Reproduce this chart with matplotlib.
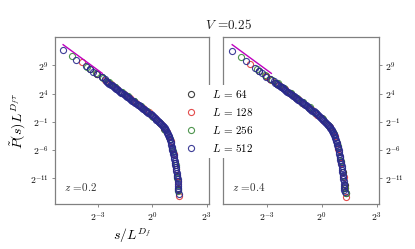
import numpy as np
import matplotlib
matplotlib.use("Agg")
import matplotlib.pyplot as plt
from matplotlib.ticker import FixedLocator, FuncFormatter, NullLocator

plt.rcParams['font.family'] = 'serif'
plt.rcParams['font.serif'] = ['cmr10', 'DejaVu Serif']
plt.rcParams['mathtext.fontset'] = 'cm'
plt.rcParams['axes.unicode_minus'] = False
plt.rcParams['axes.formatter.use_mathtext'] = True

# values are log2 exponents: x = log2(s/L^Df), y = log2(P L^(Df tau))
sizes = [64, 128, 256, 512]
colors = ['#2b2b2b', '#e03a3a', '#3c8a3c', '#2a2a8c']

# ---- z = 0.2 (left) ----
z02_x64 = [-3.48, -3.05, -2.82, -2.45, -2.10, -1.75, -1.40, -1.05, -0.70, -0.35, 0.0, 0.35, 0.65, 0.90, 1.08, 1.25, 1.36, 1.44]
z02_y64 = [8.30, 7.40, 7.00, 6.00, 5.20, 4.35, 3.55, 2.70, 1.85, 1.00, 0.05, -1.10, -2.25, -3.6, -5.6, -8.2, -10.5, -12.8]
z02_x128 = [-3.92, -3.05, -2.64, -2.30, -1.95, -1.60, -1.25, -0.90, -0.55, -0.20, 0.15, 0.50, 0.80, 1.00, 1.18, 1.32, 1.40, 1.47]
z02_y128 = [9.53, 7.50, 6.47, 5.65, 4.82, 4.00, 3.17, 2.35, 1.50, 0.70, -0.35, -1.45, -2.75, -4.3, -6.7, -9.3, -11.6, -14.1]
z02_x256 = [-4.43, -3.60, -3.15, -2.75, -2.40, -2.05, -1.70, -1.35, -1.00, -0.65, -0.30, 0.05, 0.40, 0.70, 0.95, 1.12, 1.28, 1.38, 1.44]
z02_y256 = [10.6, 8.75, 7.7, 6.85, 6.05, 5.15, 4.35, 3.5, 2.65, 1.85, 0.95, -0.1, -1.25, -2.4, -4.0, -6.2, -8.6, -11.0, -13.2]
z02_x512 = [-4.95, -4.21, -3.70, -3.48, -3.27, -3.05, -2.82, -2.64,
            -2.56, -2.50, -2.44, -2.38, -2.32, -2.26, -2.20, -2.14, -2.08, -2.02, -1.96,
            -1.90, -1.84, -1.78, -1.72, -1.66, -1.60, -1.54, -1.48, -1.42, -1.36, -1.30,
            -1.24, -1.18, -1.12, -1.06, -1.00, -0.94, -0.88, -0.82, -0.76, -0.70, -0.64,
            -0.58, -0.52, -0.46, -0.40, -0.34, -0.28, -0.22, -0.16, -0.10, -0.04, 0.02,
            0.07, 0.12, 0.17, 0.22, 0.27, 0.32, 0.37, 0.42, 0.47, 0.51, 0.56, 0.60,
            0.64, 0.68, 0.72, 0.75, 0.79, 0.82, 0.85, 0.88, 0.91, 0.93, 0.96, 0.98,
            1.01, 1.03, 1.05, 1.07, 1.09, 1.11, 1.13, 1.15, 1.17, 1.19, 1.21, 1.23,
            1.25, 1.27, 1.29, 1.31, 1.33, 1.34, 1.36, 1.37, 1.39, 1.40, 1.41, 1.42,
            1.43, 1.44, 1.45]
z02_y512 = [11.77, 9.94, 8.82, 8.35, 7.89, 7.46, 7.00, 6.55,
            6.15, 6.01, 5.87, 5.73, 5.59, 5.45, 5.31, 5.17, 5.03, 4.88, 4.74,
            4.60, 4.46, 4.32, 4.18, 4.04, 3.90, 3.76, 3.62, 3.47, 3.33, 3.19,
            3.05, 2.91, 2.77, 2.63, 2.49, 2.34, 2.20, 2.06, 1.92, 1.78, 1.64,
            1.50, 1.36, 1.21, 1.07, 0.93, 0.78, 0.62, 0.47, 0.32, 0.16, 0.0,
            -0.14, -0.28, -0.43, -0.58, -0.73, -0.88, -1.03, -1.18, -1.33, -1.48, -1.64, -1.80,
            -1.97, -2.15, -2.32, -2.50, -2.70, -2.90, -3.10, -3.30, -3.52, -3.75, -4.0, -4.25,
            -4.52, -4.80, -5.10, -5.40, -5.70, -6.0, -6.3, -6.6, -6.92, -7.25, -7.57, -7.9,
            -8.25, -8.6, -8.95, -9.3, -9.65, -10.0, -10.35, -10.7, -11.1, -11.5, -11.9, -12.3,
            -12.65, -13.0, -13.7]

# ---- z = 0.4 (right) ----
z04_x64 = [-3.42, -3.02, -2.80, -2.45, -2.10, -1.75, -1.40, -1.05, -0.70, -0.35, 0.0, 0.35, 0.62, 0.85, 1.02, 1.16, 1.26, 1.32]
z04_y64 = [8.06, 7.05, 6.60, 5.75, 4.92, 4.10, 3.25, 2.40, 1.55, 0.62, -0.35, -1.50, -2.85, -4.7, -7.2, -9.9, -12.2, -13.5]
z04_x128 = [-3.90, -3.02, -2.75, -2.35, -2.00, -1.65, -1.30, -0.95, -0.60, -0.25, 0.10, 0.45, 0.72, 0.92, 1.08, 1.20, 1.27, 1.32]
z04_y128 = [9.23, 7.10, 6.47, 5.60, 4.75, 3.92, 3.05, 2.22, 1.30, 0.30, -0.70, -1.95, -3.55, -5.8, -8.3, -10.8, -12.6, -14.3]
z04_x256 = [-4.39, -3.55, -3.10, -2.70, -2.40, -2.05, -1.70, -1.35, -1.00, -0.65, -0.30, 0.05, 0.40, 0.68, 0.90, 1.06, 1.19, 1.27, 1.31]
z04_y256 = [10.4, 8.35, 7.3, 6.5, 5.8, 4.95, 4.15, 3.3, 2.5, 1.62, 0.62, -0.5, -1.7, -3.2, -5.3, -7.9, -10.5, -12.6, -13.5]
z04_x512 = [-4.89, -4.15, -3.66, -3.42, -3.24, -3.02, -2.80, -2.62,
            -2.54, -2.48, -2.42, -2.36, -2.30, -2.24, -2.18, -2.12, -2.06, -2.00, -1.94,
            -1.88, -1.82, -1.76, -1.70, -1.64, -1.58, -1.52, -1.46, -1.40, -1.34, -1.28,
            -1.22, -1.16, -1.10, -1.04, -0.98, -0.92, -0.86, -0.80, -0.74, -0.68, -0.62,
            -0.56, -0.50, -0.44, -0.38, -0.32, -0.26, -0.20, -0.14, -0.08, -0.02, 0.04,
            0.09, 0.14, 0.19, 0.24, 0.29, 0.34, 0.39, 0.43, 0.47, 0.51, 0.55, 0.59,
            0.63, 0.66, 0.69, 0.72, 0.75, 0.78, 0.81, 0.83, 0.86, 0.88, 0.91, 0.93,
            0.95, 0.97, 0.99, 1.01, 1.03, 1.05, 1.07, 1.09, 1.11, 1.12, 1.14, 1.15,
            1.17, 1.18, 1.20, 1.21, 1.22, 1.23, 1.24, 1.25]
z04_y512 = [11.6, 9.7, 8.52, 8.06, 7.59, 7.0, 6.6, 6.2,
            5.96, 5.82, 5.67, 5.53, 5.38, 5.24, 5.10, 4.95, 4.81, 4.66, 4.52,
            4.38, 4.23, 4.09, 3.94, 3.80, 3.66, 3.51, 3.37, 3.22, 3.08, 2.94,
            2.79, 2.65, 2.50, 2.36, 2.22, 2.07, 1.93, 1.78, 1.64, 1.50, 1.34,
            1.18, 1.02, 0.85, 0.69, 0.52, 0.35, 0.18, 0.0, -0.17, -0.35, -0.52,
            -0.68, -0.85, -1.01, -1.18, -1.35, -1.52, -1.70, -1.88, -2.06, -2.25, -2.45, -2.65,
            -2.87, -3.10, -3.35, -3.60, -3.87, -4.15, -4.45, -4.75, -5.05, -5.35, -5.67, -6.00,
            -6.32, -6.65, -6.97, -7.30, -7.65, -8.0, -8.37, -8.75, -9.12, -9.5, -9.9, -10.3,
            -10.7, -11.1, -11.5, -11.9, -12.3, -12.7, -13.05, -13.4]

# guide lines (power law), log2 exponents of the end points
guide02_x = [-4.95, -2.78]
guide02_y = [12.66, 7.59]
guide04_x = [-4.89, -2.75]
guide04_y = [12.66, 7.59]

panels = [
    (0.2, [(z02_x64, z02_y64), (z02_x128, z02_y128), (z02_x256, z02_y256), (z02_x512, z02_y512)], guide02_x, guide02_y),
    (0.4, [(z04_x64, z04_y64), (z04_x128, z04_y128), (z04_x256, z04_y256), (z04_x512, z04_y512)], guide04_x, guide04_y),
]

xticks = [-3, 0, 3]
yticks = [9, 4, -1, -6, -11]

fig = plt.figure(figsize=(4.15, 2.49), dpi=100)
ax_l = fig.add_axes([0.1325, 0.181, 0.371, 0.670])
ax_r = fig.add_axes([0.537, 0.181, 0.376, 0.670])

pow2 = FuncFormatter(lambda v, p: r"$2^{%d}$" % int(round(np.log2(v))))

for ax, (z, series, gx, gy) in zip([ax_l, ax_r], panels):
    for (xs, ys), L, c in zip(series, sizes, colors):
        ax.plot(np.power(2.0, xs), np.power(2.0, ys), 'o', mfc='none', mec=c,
                ms=4.4, mew=0.8, alpha=0.9, label=r"$L\, =\, %d$" % L)
    ax.plot(np.power(2.0, gx), np.power(2.0, gy), color='m', lw=1.0)
    ax.set_xscale('log', base=2)
    ax.set_yscale('log', base=2)
    ax.set_xlim(2 ** -5.4, 2 ** 3.13)
    ax.set_ylim(2 ** -15.5, 2 ** 14)
    ax.xaxis.set_major_locator(FixedLocator([2.0 ** t for t in xticks]))
    ax.yaxis.set_major_locator(FixedLocator([2.0 ** t for t in yticks]))
    ax.xaxis.set_minor_locator(NullLocator())
    ax.yaxis.set_minor_locator(NullLocator())
    ax.xaxis.set_major_formatter(pow2)
    ax.yaxis.set_major_formatter(pow2)
    ax.tick_params(labelsize=7, length=2.5, width=0.6, color='#777777', pad=2)
    for sp in ax.spines.values():
        sp.set_color('#808080')
        sp.set_linewidth(0.9)
    ax.text(0.06, 0.08, "$z$ =%.1f" % z, transform=ax.transAxes, fontsize=8, color='#333333')

ax_r.yaxis.tick_right()
ax_l.set_xlabel(r"$s/L^{D_f}$", fontsize=10, labelpad=2)
ax_l.set_ylabel(r"$\tilde{P}(s)L^{D_f\tau}$", fontsize=10, labelpad=1)

fig.text(0.55, 0.9, "$V$ =0.25", ha='center', va='center', fontsize=9.5, color='#222222')

handles, labels = ax_l.get_legend_handles_labels()
fig.legend(handles, labels, loc='center', bbox_to_anchor=(0.527, 0.514), fontsize=8,
           frameon=True, facecolor='white', edgecolor='none', framealpha=1.0,
           labelspacing=0.55, handletextpad=1.3, handlelength=1.2, borderpad=0.3)

fig.savefig("out.png", dpi=100)
